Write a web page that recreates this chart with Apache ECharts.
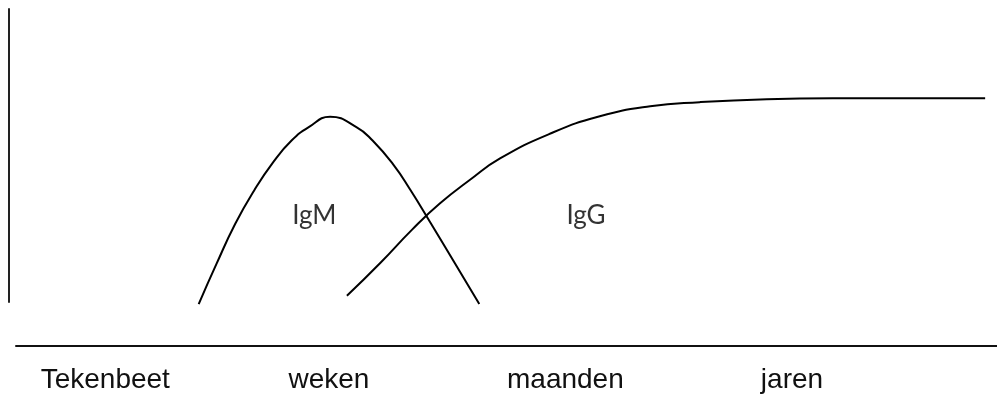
<!DOCTYPE html>
<html>
<head>
<meta charset="utf-8">
<script src="https://cdn.jsdelivr.net/npm/echarts@6/dist/echarts.min.js"></script>
<style>
  html, body { margin: 0; padding: 0; background: #fff; }
  #chart { width: 997px; height: 401px; }
</style>
</head>
<body>
<div id="chart"></div>
<script>
// Time axis labels and their positions on the time scale (0-100)
const timeLabels = ['Tekenbeet', 'weken', 'maanden', 'jaren'];
const timeLabelValues = [9.1, 31.9, 56.0, 79.1];

// IgM curve: [time, level]
const igmTime  = [19.2, 21.0, 22.9, 24.8, 26.8, 28.6, 30.3, 32.5, 35.2, 36.8, 38.9, 40.6, 42.6, 45.1, 47.6];
const igmLevel = [-0.7, 13.0, 26.7, 38.0, 48.0, 55.1, 59.6, 63.2, 59.6, 55.1, 46.9, 38.4, 27.4, 13.4, -0.7];

// IgG curve: [time, level]
const iggTime  = [34.2, 37.6, 40.8, 43.6, 46.7, 49.7, 54.8, 59.8, 64.9, 69.9, 76.7, 83.4, 90.2, 98.8];
const iggLevel = [2.1, 13.4, 24.7, 33.6, 41.8, 49.0, 57.5, 63.4, 66.8, 68.2, 69.2, 69.5, 69.5, 69.5];

// Curve names and where their names are written [time, level]
const curveNames = ['IgM', 'IgG'];
const nameAnchors = [[30.9, 29.6], [58.4, 29.6]];

const zip = (a, b) => a.map((v, i) => [v, b[i]]);

const chart = echarts.init(document.getElementById('chart'), null, { renderer: 'canvas' });
chart.setOption({
  animation: false,
  backgroundColor: '#ffffff',
  grid: [
    { left: 9, right: 0, top: 9, bottom: 99 },
    { left: 16, right: 0, top: 330, bottom: 55 }
  ],
  xAxis: [
    { gridIndex: 0, type: 'value', min: 0, max: 100, show: false },
    {
      gridIndex: 1, type: 'value', min: 0, max: 100,
      axisLine: { show: true, lineStyle: { color: '#111', width: 2 } },
      axisTick: { show: false },
      splitLine: { show: false },
      axisLabel: {
        customValues: timeLabelValues,
        formatter: (v) => {
          const i = timeLabelValues.findIndex(t => Math.abs(t - v) < 1e-6);
          return i >= 0 ? timeLabels[i] : '';
        },
        margin: 20,
        color: '#111',
        fontFamily: 'Liberation Sans',
        fontSize: 28
      }
    }
  ],
  yAxis: [
    {
      gridIndex: 0, type: 'value', min: 0, max: 100,
      axisLine: { show: true, lineStyle: { color: '#222', width: 2 } },
      axisTick: { show: false },
      axisLabel: { show: false },
      splitLine: { show: false }
    },
    { gridIndex: 1, type: 'value', min: 0, max: 1, show: false }
  ],
  series: [
    {
      name: 'IgM', type: 'line', xAxisIndex: 0, yAxisIndex: 0,
      data: zip(igmTime, igmLevel), smooth: 0.5, symbol: 'none', clip: false,
      lineStyle: { color: '#000', width: 2 }
    },
    {
      name: 'IgG', type: 'line', xAxisIndex: 0, yAxisIndex: 0,
      data: zip(iggTime, iggLevel), smooth: 0.5, symbol: 'none', clip: false,
      lineStyle: { color: '#000', width: 2 }
    },
    {
      name: 'names', type: 'scatter', xAxisIndex: 0, yAxisIndex: 0,
      symbolSize: 0, silent: true,
      data: curveNames.map((n, i) => ({ name: n, value: nameAnchors[i] })),
      label: {
        show: true, position: 'inside', formatter: '{b}',
        color: '#000', fontFamily: 'Lato', fontSize: 26
      }
    }
  ]
});
</script>
</body>
</html>
